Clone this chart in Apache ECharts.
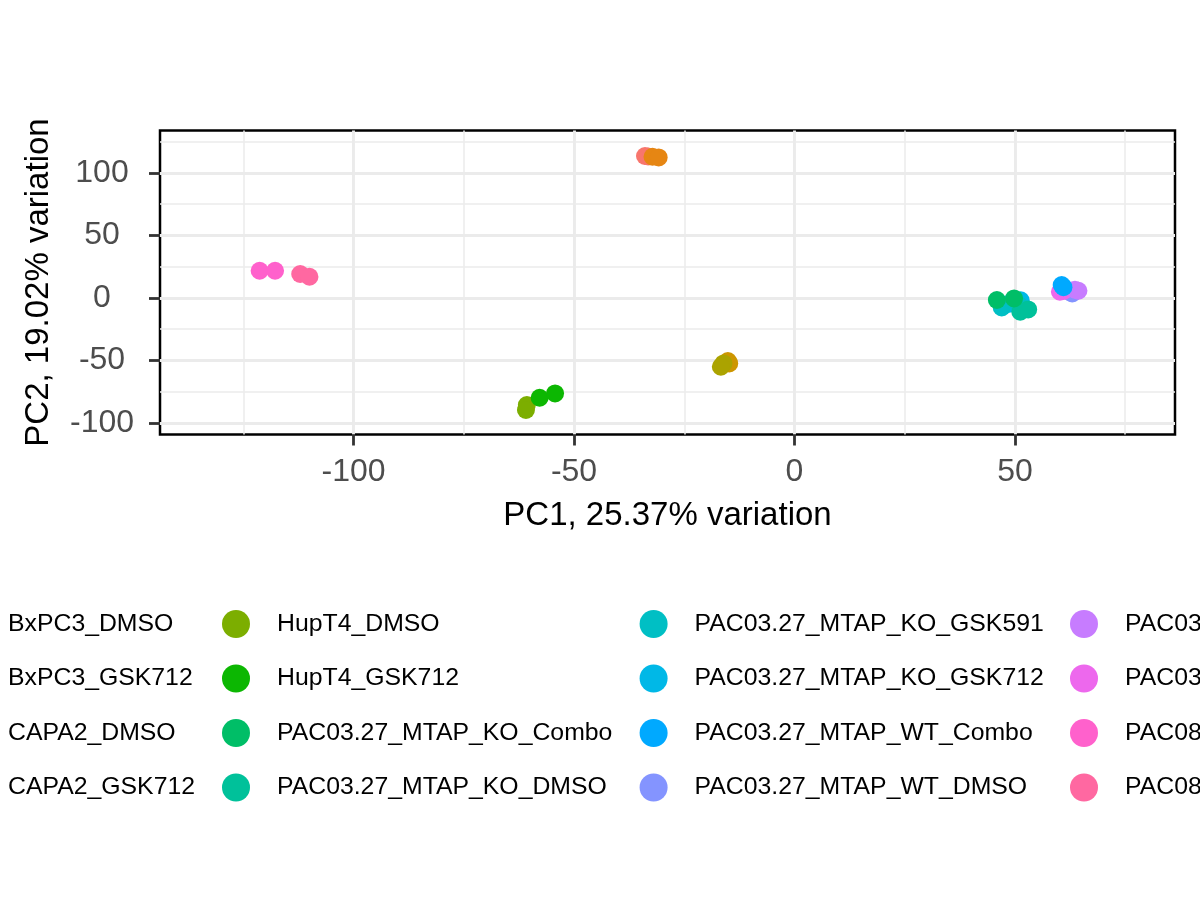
<!DOCTYPE html>
<html>
<head>
<meta charset="utf-8">
<script src="https://cdn.jsdelivr.net/npm/echarts@6/dist/echarts.min.js"></script>
<style>html,body{margin:0;padding:0;background:#fff}#c{width:1200px;height:900px}</style>
</head>
<body>
<div id="c"></div>
<script>
// ---- data ----
const groupNames = [
  'BxPC3_DMSO','BxPC3_GSK712','CAPA2_DMSO','CAPA2_GSK712',
  'HupT4_DMSO','HupT4_GSK712','PAC03.27_MTAP_KO_Combo','PAC03.27_MTAP_KO_DMSO',
  'PAC03.27_MTAP_KO_GSK591','PAC03.27_MTAP_KO_GSK712','PAC03.27_MTAP_WT_Combo','PAC03.27_MTAP_WT_DMSO',
  'PAC03.27_MTAP_WT_GSK591','PAC03.27_MTAP_WT_GSK712','PAC08_DMSO','PAC08_GSK712'
];
const groupColors = [
  '#F8766D','#E68613','#CD9600','#ABA300',
  '#7CAE00','#0CB702','#00BE67','#00C19A',
  '#00BFC4','#00B8E7','#00A9FF','#8494FF',
  '#C77CFF','#ED68ED','#FF61CC','#FF68A1'
];
const BxPC3_DMSO   = [[-33.9, 113.4], [-33.2, 113.0]];
const BxPC3_GSK712 = [[-32.2, 112.8], [-30.8, 112.3]];
const CAPA2_DMSO   = [[-15.1, -50.6], [-14.8, -52.5]];
const CAPA2_GSK712 = [[-16.1, -52.5], [-16.7, -55.2]];
const HupT4_DMSO   = [[-60.7, -85.8], [-60.9, -89.8]];
const HupT4_GSK712 = [[-57.8, -80.0], [-54.3, -76.5]];
const KO_Combo     = [[45.9, -1.8], [49.8, -0.5]];
const KO_DMSO      = [[51.2, -11.2], [53.0, -9.3]];
const KO_GSK591    = [[47.0, -7.7], [51.0, -6.0]];
const KO_GSK712    = [[51.3, -2.0], [48.5, -5.0]];
const WT_Combo     = [[60.6, 10.2], [61.0, 8.5]];
const WT_DMSO      = [[63.0, 3.5], [62.5, 4.5]];
const WT_GSK591    = [[64.4, 5.6], [63.6, 6.5]];
const WT_GSK712    = [[60.2, 4.8], [61.0, 5.5]];
const PAC08_DMSO   = [[-121.3, 21.6], [-117.8, 21.6]];
const PAC08_GSK712 = [[-112.1, 19.0], [-110.0, 16.8]];
const groupData = [
  BxPC3_DMSO, BxPC3_GSK712, CAPA2_DMSO, CAPA2_GSK712,
  HupT4_DMSO, HupT4_GSK712, KO_Combo, KO_DMSO,
  KO_GSK591, KO_GSK712, WT_Combo, WT_DMSO,
  WT_GSK591, WT_GSK712, PAC08_DMSO, PAC08_GSK712
];
// drawing order (bottom to top), as indices into groupNames
const drawOrder = [2,3,0,1,4,5,9,8,7,6,11,13,12,10,15,14];
const xTicks = [-100, -50, 0, 50];
const yTicks = [-100, -50, 0, 50, 100];
const xRange = [-143.9, 86.3];
const yRange = [-109.4, 133.8];
const xTitle = 'PC1, 25.37% variation';
const yTitle = 'PC2, 19.02% variation';

// ---- chart ----
const FONT = '"Liberation Sans", Arial, Helvetica, sans-serif';
const series = drawOrder.map(i => ({
  name: groupNames[i],
  type: 'scatter',
  data: groupData[i],
  symbol: 'circle',
  symbolSize: 18,
  itemStyle: { color: groupColors[i], opacity: 1 },
  emphasis: { disabled: true },
  silent: true,
  animation: false
}));

const legendCols = [
  { left: -47, items: groupNames.slice(0, 4) },
  { left: 222, items: groupNames.slice(4, 8) },
  { left: 639.6, items: groupNames.slice(8, 12) },
  { left: 1070, items: groupNames.slice(12, 16) }
];
const legends = legendCols.map(c => ({
  orient: 'vertical',
  left: c.left,
  top: 610,
  padding: 0,
  itemWidth: 72,
  itemHeight: 28,
  itemGap: 26.5,
  icon: 'circle',
  selectedMode: false,
  data: c.items,
  textStyle: { fontFamily: FONT, fontSize: 24.8, color: '#000', lineHeight: 28 }
}));

function axisCommon(range, ticks) {
  return {
    type: 'value',
    min: range[0],
    max: range[1],
    splitNumber: 5,
    axisLine: { show: false, onZero: false },
    axisTick: { show: true, length: 11, lineStyle: { color: '#333333', width: 2.8 }, customValues: ticks },
    axisLabel: { fontFamily: FONT, fontSize: 32, color: '#4D4D4D', customValues: ticks },
    splitLine: { show: true, lineStyle: { color: '#EBEBEB', width: 2.9 } },
    minorTick: { show: false, splitNumber: 2 },
    minorSplitLine: { show: true, lineStyle: { color: '#EBEBEB', width: 1.5 } },
    nameLocation: 'middle',
    nameTextStyle: { fontFamily: FONT, fontSize: 33, color: '#000' }
  };
}
const xAxis = axisCommon(xRange, xTicks);
xAxis.name = xTitle;
xAxis.nameGap = 65;
xAxis.axisLabel.margin = 22;
const yAxis = axisCommon(yRange, yTicks);
yAxis.name = yTitle;
yAxis.nameGap = 105;
yAxis.axisLabel.margin = 58;
yAxis.axisLabel.align = 'center';

const chart = echarts.init(document.getElementById('c'), null, { renderer: 'canvas' });
chart.setOption({
  backgroundColor: '#fff',
  animation: false,
  grid: {
    left: 160, right: 25, top: 130.5, bottom: 465.5,
    show: true, borderColor: '#000', borderWidth: 2.5, backgroundColor: 'transparent',
    containLabel: false
  },
  legend: legends,
  xAxis: xAxis,
  yAxis: yAxis,
  series: series
});
</script>
</body>
</html>
